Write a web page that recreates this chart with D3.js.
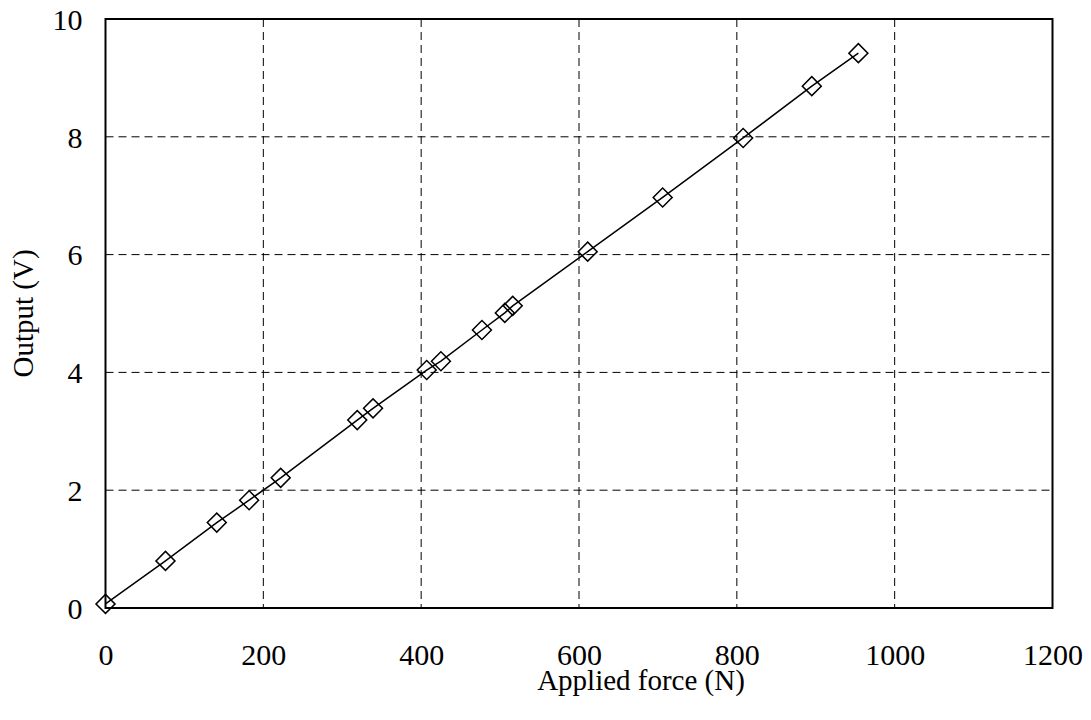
<!DOCTYPE html>
<html>
<head>
<meta charset="utf-8">
<script src="https://cdn.jsdelivr.net/npm/d3@7"></script>
<style>
  body { margin: 0; background: #fff; }
  svg text { font-family: "Liberation Serif", "Times New Roman", serif; fill: #000; }
</style>
</head>
<body>
<div id="chart"></div>
<script>
// measured data: applied force (N) vs output (V)
var force  = [0, 76, 141, 182, 222, 319, 339, 407, 425, 477, 506, 516, 611, 706, 808, 895, 954];
var output = [0.07, 0.80, 1.45, 1.83, 2.21, 3.19, 3.39, 4.04, 4.19, 4.72, 5.01, 5.13, 6.05, 6.97, 7.98, 8.86, 9.42];
var xTicks = [0, 200, 400, 600, 800, 1000, 1200];
var yTicks = [0, 2, 4, 6, 8, 10];

var W = 1091, H = 720;
var mLeft = 105.5, mRight = 1052.5, mTop = 19, mBottom = 608;

var svg = d3.select("#chart").append("svg")
    .attr("width", W)
    .attr("height", H);

var x = d3.scaleLinear().domain([0, 1200]).range([mLeft, mRight]);
var y = d3.scaleLinear().domain([0, 10]).range([mBottom, mTop]);

// grid lines
svg.append("g")
    .selectAll("line")
    .data(xTicks.slice(1, -1))
    .enter().append("line")
    .attr("x1", function(d) { return x(d); })
    .attr("x2", function(d) { return x(d); })
    .attr("y1", mTop)
    .attr("y2", mBottom)
    .attr("stroke", "#000")
    .attr("stroke-width", 1)
    .attr("stroke-dasharray", "8,5");

svg.append("g")
    .selectAll("line")
    .data(yTicks.slice(1, -1))
    .enter().append("line")
    .attr("x1", mLeft)
    .attr("x2", mRight)
    .attr("y1", function(d) { return y(d); })
    .attr("y2", function(d) { return y(d); })
    .attr("stroke", "#000")
    .attr("stroke-width", 1)
    .attr("stroke-dasharray", "8,5");

// axes (labels only, no tick marks)
var xAxis = svg.append("g")
    .attr("transform", "translate(0," + mBottom + ")")
    .call(d3.axisBottom(x).tickValues(xTicks).tickFormat(d3.format("d")).tickSize(0).tickPadding(0));
xAxis.select(".domain").remove();
xAxis.selectAll("text")
    .attr("dy", null)
    .attr("y", 57)
    .style("font-size", "30px")
    .style("font-family", "Liberation Serif, serif");

var yAxis = svg.append("g")
    .attr("transform", "translate(" + mLeft + ",0)")
    .call(d3.axisLeft(y).tickValues(yTicks).tickFormat(d3.format("d")).tickSize(0).tickPadding(23));
yAxis.select(".domain").remove();
yAxis.selectAll("text")
    .attr("dy", "0.34em")
    .style("font-size", "30px")
    .style("font-family", "Liberation Serif, serif");

// plot frame
svg.append("rect")
    .attr("x", mLeft)
    .attr("y", mTop)
    .attr("width", mRight - mLeft)
    .attr("height", mBottom - mTop)
    .attr("fill", "none")
    .attr("stroke", "#000")
    .attr("stroke-width", 2);

// data line
var pts = force.map(function(f, i) { return [f, output[i]]; });
var line = d3.line()
    .x(function(d) { return x(d[0]); })
    .y(function(d) { return y(d[1]); });

svg.append("path")
    .datum(pts)
    .attr("d", line)
    .attr("fill", "none")
    .attr("stroke", "#000")
    .attr("stroke-width", 1.5);

// diamond markers
var diamond = d3.symbol().type(d3.symbolSquare).size(180);
svg.append("g")
    .selectAll("path")
    .data(pts)
    .enter().append("path")
    .attr("d", diamond)
    .attr("transform", function(d) { return "translate(" + x(d[0]) + "," + y(d[1]) + ") rotate(45)"; })
    .attr("fill", "none")
    .attr("stroke", "#000")
    .attr("stroke-width", 1.5);

// axis titles
svg.append("text")
    .attr("x", 641)
    .attr("y", 690)
    .attr("text-anchor", "middle")
    .style("font-size", "29px")
    .text("Applied force (N)");

svg.append("text")
    .attr("transform", "translate(33," + ((mTop + mBottom) / 2) + ") rotate(-90)")
    .attr("text-anchor", "middle")
    .style("font-size", "29px")
    .text("Output (V)");
</script>
</body>
</html>
